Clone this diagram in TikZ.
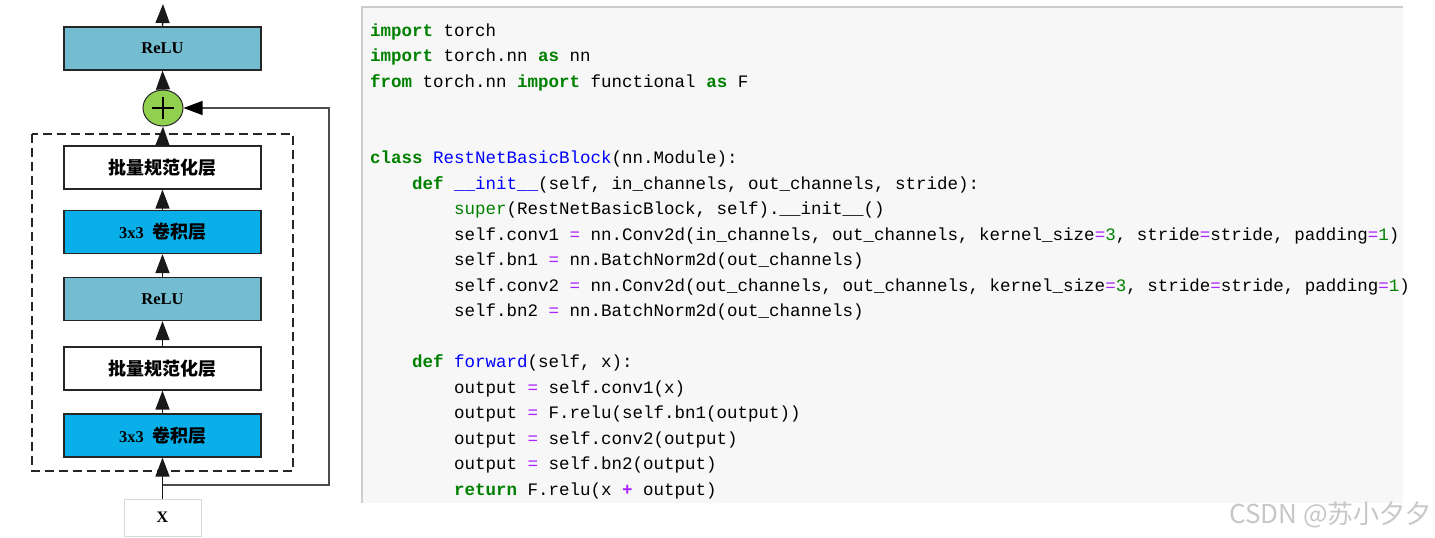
\documentclass[tikz,border=0pt]{standalone}
\usepackage{fontspec}
\setmainfont{Liberation Serif}
\setmonofont{Liberation Mono}
\newfontfamily\cjk{Noto Sans CJK SC}
\usetikzlibrary{arrows.meta,shapes.geometric}
\definecolor{reluc}{HTML}{74BDD0}
\definecolor{convc}{HTML}{08AFE8}
\definecolor{plusc}{HTML}{92D050}
\definecolor{codebg}{HTML}{F7F7F7}
\definecolor{kwc}{HTML}{008000}
\definecolor{nmc}{HTML}{0000FF}
\definecolor{opc}{HTML}{AA22FF}
\newcommand{\ckw}[1]{\textcolor{kwc}{\bfseries #1}}
\newcommand{\cbi}[1]{\textcolor{kwc}{#1}}
\newcommand{\cnm}[1]{\textcolor{nmc}{#1}}
\newcommand{\cop}[1]{\textcolor{opc}{#1}}
\newcommand{\cnum}[1]{\textcolor{kwc}{#1}}
\frenchspacing
\tikzset{
  blk/.style={draw=black!85, line width=1.2pt, minimum width=197pt, minimum height=43pt, inner sep=0pt, font=\fontsize{16.5}{20}\selectfont\bfseries},
  relub/.style={blk, fill=reluc},
  convb/.style={blk, fill=convc},
  bnb/.style={blk, fill=white},
  arr/.style={-{Triangle[length=19pt,width=14pt]}, line width=1.4pt, draw=black!90},
  code/.style={anchor=base west, inner sep=0pt, font=\ttfamily\fontsize{17.5}{20}\selectfont},
}
\begin{document}
\begin{tikzpicture}[x=1pt,y=-1pt]
\useasboundingbox (0,0) rectangle (1435,538);
% code panel
\fill[codebg] (362,7) rectangle (1403,503);
\draw[black!20, line width=1.2pt] (362,503) -- (362,7) -- (1403,7);

% diagram
\node[relub] (relu3) at (162.5,48.5) {ReLU};
\node[draw=black!85, line width=1pt, fill=plusc, ellipse, minimum width=40pt, minimum height=36pt, inner sep=0pt] (plus) at (163,108) {};
\draw[line width=1.6pt] ([xshift=-11pt]plus.center) -- ([xshift=11pt]plus.center);
\draw[line width=1.6pt] ([yshift=-11pt]plus.center) -- ([yshift=11pt]plus.center);
\node[bnb] (bn1) at (162.5,167.5) {{\cjk\bfseries\fontsize{18}{20}\selectfont 批量规范化层}};
\node[convb] (conv1) at (162.5,232) {3x3\hspace{0.5em}{\cjk\bfseries\fontsize{18}{20}\selectfont 卷积层}};
\node[relub] (relu2) at (162.5,299) {ReLU};
\node[bnb] (bn2) at (162.5,368.5) {{\cjk\bfseries\fontsize{18}{20}\selectfont 批量规范化层}};
\node[convb] (conv2) at (162.5,435.5) {3x3\hspace{0.5em}{\cjk\bfseries\fontsize{18}{20}\selectfont 卷积层}};
\node[draw=black!15, line width=1pt, minimum width=77pt, minimum height=37pt, inner sep=0pt, font=\fontsize{16}{18}\selectfont\bfseries] (x) at (162.5,517.5) {X};
\draw[dashed, dash pattern=on 9pt off 5pt, line width=1.5pt, draw=black!85] (32,134) rectangle (293,471);

\coordinate (top) at (163,4);
\coordinate (split) at (163,485);
\coordinate (rt) at (329,485);
\coordinate (rb) at (329,108);

\draw[arr] (x.north) -- (conv2.south);
\draw[arr] (conv2.north) -- (bn2.south);
\draw[arr] (bn2.north) -- (relu2.south);
\draw[arr] (relu2.north) -- (conv1.south);
\draw[arr] (conv1.north) -- (bn1.south);
\draw[arr] (bn1.north) -- (plus.south);
\draw[arr] (plus.north) -- (relu3.south);
\draw[arr] (relu3.north) -- (top);
\draw[arr, line width=1.1pt, draw=black!70, -{Triangle[length=19pt,width=14pt,fill=black,color=black]}] (split) -- (rt) -- (rb) -- (plus.east);

% code lines
\node[code] (l0) at (370,36) {\ckw{import} torch};
\node[code] (l1) at (370,61.5) {\ckw{import} torch.nn \ckw{as} nn};
\node[code] (l2) at (370,87) {\ckw{from} torch.nn \ckw{import} functional \ckw{as} F};
\node[code] (l5) at (370,163.5) {\ckw{class} \cnm{RestNetBasicBlock}(nn.Module):};
\node[code] (l6) at (412,189) {\ckw{def} \cnm{\_\_init\_\_}(self, in\_channels, out\_channels, stride):};
\node[code] (l7) at (454,214.5) {\cbi{super}(RestNetBasicBlock, self).\_\_init\_\_()};
\node[code] (l8) at (454,240) {self.conv1 \cop{=} nn.Conv2d(in\_channels, out\_channels, kernel\_size\cop{=}\cnum{3}, stride\cop{=}stride, padding\cop{=}\cnum{1})};
\node[code] (l9) at (454,265.5) {self.bn1 \cop{=} nn.BatchNorm2d(out\_channels)};
\node[code] (l10) at (454,291) {self.conv2 \cop{=} nn.Conv2d(out\_channels, out\_channels, kernel\_size\cop{=}\cnum{3}, stride\cop{=}stride, padding\cop{=}\cnum{1})};
\node[code] (l11) at (454,316.5) {self.bn2 \cop{=} nn.BatchNorm2d(out\_channels)};
\node[code] (l13) at (412,367.5) {\ckw{def} \cnm{forward}(self, x):};
\node[code] (l14) at (454,393) {output \cop{=} self.conv1(x)};
\node[code] (l15) at (454,418.5) {output \cop{=} F.relu(self.bn1(output))};
\node[code] (l16) at (454,444) {output \cop{=} self.conv2(output)};
\node[code] (l17) at (454,469.5) {output \cop{=} self.bn2(output)};
\node[code] (l18) at (454,495) {\ckw{return} F.relu(x \cop{\bfseries +} output)};

% watermark
\node[anchor=base east, inner sep=0pt, text=black!22, font=\cjk\fontsize{26}{30}\selectfont] (wm) at (1432,523) {CSDN @苏小夕夕};
\end{tikzpicture}
\end{document}
